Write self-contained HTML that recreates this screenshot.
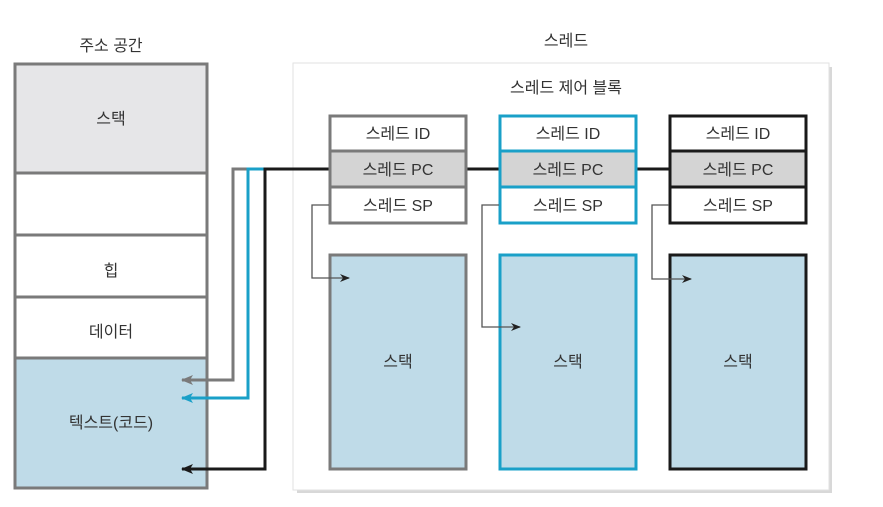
<!DOCTYPE html>
<html><head><meta charset="utf-8"><style>
html,body{margin:0;padding:0;background:#fff;width:883px;height:507px;overflow:hidden}
text{font-family:"Liberation Sans","Noto Sans CJK KR",sans-serif;font-size:16px;fill:#333;text-anchor:middle}
</style></head><body>
<svg width="883" height="507" viewBox="0 0 883 507" xmlns="http://www.w3.org/2000/svg">
<defs>
<marker id="ak" markerWidth="10" markerHeight="8" refX="9" refY="4" orient="auto" markerUnits="userSpaceOnUse"><path d="M0,0 L10,4 L0,8 L3,4 Z" fill="#222"/></marker>
<marker id="ag" markerWidth="12" markerHeight="10" refX="11" refY="5" orient="auto" markerUnits="userSpaceOnUse"><path d="M0,0 L12,5 L0,10 L3,5 Z" fill="#7a7a7a"/></marker>
<marker id="ab" markerWidth="12" markerHeight="10" refX="11" refY="5" orient="auto" markerUnits="userSpaceOnUse"><path d="M0,0 L12,5 L0,10 L3,5 Z" fill="#1aa0c8"/></marker>
<marker id="ad" markerWidth="12" markerHeight="10" refX="11" refY="5" orient="auto" markerUnits="userSpaceOnUse"><path d="M0,0 L12,5 L0,10 L3,5 Z" fill="#1a1a1a"/></marker>
</defs>
<!-- titles -->
<text x="111" y="51">주소 공간</text>
<text x="566" y="46">스레드</text>
<!-- panel -->
<rect x="297" y="67" width="535" height="426" fill="#d8d8d8"/>
<rect x="293" y="63" width="536" height="427" fill="#fff" stroke="#e2e2e2" stroke-width="1"/>
<text x="566" y="93">스레드 제어 블록</text>
<!-- address space -->
<rect x="15" y="64" width="192" height="109" fill="#e6e6e8"/>
<rect x="15" y="358" width="192" height="130" fill="#bfdbe8"/>
<g stroke="#7a7a7a" stroke-width="3" fill="none">
<rect x="15" y="64" width="192" height="424"/>
<line x1="15" y1="173" x2="207" y2="173"/>
<line x1="15" y1="235" x2="207" y2="235"/>
<line x1="15" y1="297" x2="207" y2="297"/>
<line x1="15" y1="358" x2="207" y2="358"/>
</g>
<text x="111" y="124">스택</text>
<text x="111" y="276">힙</text>
<text x="111" y="337">데이터</text>
<text x="111" y="428">텍스트(코드)</text>
<!-- PC connectors -->
<polyline points="250,169 233,169 233,380 182,380" fill="none" stroke="#7a7a7a" stroke-width="3" marker-end="url(#ag)"/>
<polyline points="265,169 248,169 248,398 182,398" fill="none" stroke="#1aa0c8" stroke-width="3" marker-end="url(#ab)"/>
<polyline points="330,169 265,169 265,469 182,469" fill="none" stroke="#1a1a1a" stroke-width="3" marker-end="url(#ad)"/>
<line x1="466" y1="169" x2="500" y2="169" stroke="#1a1a1a" stroke-width="3"/>
<line x1="636" y1="169" x2="670" y2="169" stroke="#1a1a1a" stroke-width="3"/>
<!-- TCBs -->
<g>
<rect x="330" y="151" width="136" height="36" fill="#d4d4d4"/>
<rect x="500" y="151" width="136" height="36" fill="#d4d4d4"/>
<rect x="670" y="151" width="136" height="36" fill="#d4d4d4"/>
</g>
<g fill="none" stroke-width="3">
<g stroke="#7a7a7a"><rect x="330" y="116" width="136" height="107"/><line x1="330" y1="151" x2="466" y2="151"/><line x1="330" y1="187" x2="466" y2="187"/></g>
<g stroke="#1aa0c8"><rect x="500" y="116" width="136" height="107"/><line x1="500" y1="151" x2="636" y2="151"/><line x1="500" y1="187" x2="636" y2="187"/></g>
<g stroke="#1a1a1a"><rect x="670" y="116" width="136" height="107"/><line x1="670" y1="151" x2="806" y2="151"/><line x1="670" y1="187" x2="806" y2="187"/></g>
</g>
<g>
<text x="398" y="139">스레드 ID</text><text x="398" y="175">스레드 PC</text><text x="398" y="211">스레드 SP</text>
<text x="568" y="139">스레드 ID</text><text x="568" y="175">스레드 PC</text><text x="568" y="211">스레드 SP</text>
<text x="738" y="139">스레드 ID</text><text x="738" y="175">스레드 PC</text><text x="738" y="211">스레드 SP</text>
</g>
<!-- stacks -->
<rect x="330" y="255" width="136" height="214" fill="#bfdbe8" stroke="#7a7a7a" stroke-width="3"/>
<rect x="500" y="255" width="136" height="214" fill="#bfdbe8" stroke="#1aa0c8" stroke-width="3"/>
<rect x="670" y="255" width="136" height="214" fill="#bfdbe8" stroke="#1a1a1a" stroke-width="3"/>
<text x="398" y="367">스택</text>
<text x="568" y="367">스택</text>
<text x="738" y="367">스택</text>
<!-- SP arrows -->
<g fill="none" stroke="#555" stroke-width="1.3">
<polyline points="329,205 312,205 312,278 349,278" marker-end="url(#ak)"/>
<polyline points="499,205 482,205 482,327 520,327" marker-end="url(#ak)"/>
<polyline points="669,205 652,205 652,279 691,279" marker-end="url(#ak)"/>
</g>
</svg>
</body></html>
